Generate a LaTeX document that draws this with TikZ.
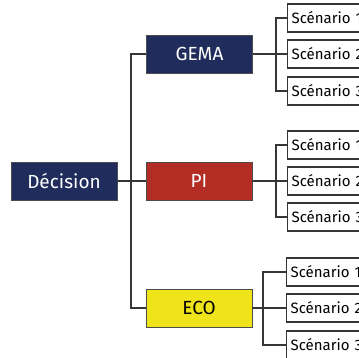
\documentclass[tikz,border=0pt]{standalone}
\usepackage{fontspec}
\setmainfont{Fira Sans}
\definecolor{navy}{HTML}{1F2C5C}
\definecolor{pired}{HTML}{B32D24}
\definecolor{ecoyellow}{HTML}{EFE319}
\definecolor{linegray}{HTML}{363636}
\begin{document}
\begin{tikzpicture}[x=1pt,y=-1pt,
  mainbox/.style={minimum width=106pt, minimum height=38pt, inner sep=0pt,
    draw=gray!60!black, line width=0.8pt, font=\fontsize{19}{22}\selectfont},
  scen/.style={draw=linegray, fill=white, line width=1.2pt, minimum height=28pt,
    anchor=west, inner xsep=4pt, inner ysep=0pt, text width=92pt, align=left,
    font=\fontsize{15}{18}\selectfont},
  conn/.style={draw=linegray, line width=1.2pt}]
\useasboundingbox (0,0) rectangle (359,358);
\clip (0,0) rectangle (359,358);
% main nodes
\node[mainbox, fill=navy, text=white] (dec) at (64,181) {Décision};
\node[mainbox, fill=navy, text=white] (gema) at (199.5,54) {GEMA};
\node[mainbox, fill=pired, text=white] (pi) at (199,181) {PI};
\node[mainbox, fill=ecoyellow, text=black] (eco) at (199,308) {ECO};
% scenario nodes
\node[scen] (g1) at (287,18) {Scénario 1};
\node[scen] (g2) at (287,54) {Scénario 2};
\node[scen] (g3) at (287,91) {Scénario 3};
\node[scen] (p1) at (287,145) {Scénario 1};
\node[scen] (p2) at (287,181) {Scénario 2};
\node[scen] (p3) at (287,217) {Scénario 3};
\node[scen] (e1) at (286,272) {Scénario 1};
\node[scen] (e2) at (286,308) {Scénario 2};
\node[scen] (e3) at (286,345) {Scénario 3};
% trunk
\coordinate (tg) at (131,54);
\coordinate (te) at (131,308);
\draw[conn] (gema.west) -- (tg) -- (te) -- (eco.west);
\draw[conn] (dec.east) -- (pi.west);
% branches
\coordinate (bg) at (276,54);
\coordinate (bp) at (276,181);
\coordinate (be) at (263,308);
\draw[conn] (gema.east) -- (g2.west);
\draw[conn] (g1.west) -| (bg) |- (g3.west);
\draw[conn] (pi.east) -- (p2.west);
\draw[conn] (p1.west) -| (bp) |- (p3.west);
\draw[conn] (eco.east) -- (e2.west);
\draw[conn] (e1.west) -| (be) |- (e3.west);
\end{tikzpicture}
\end{document}
